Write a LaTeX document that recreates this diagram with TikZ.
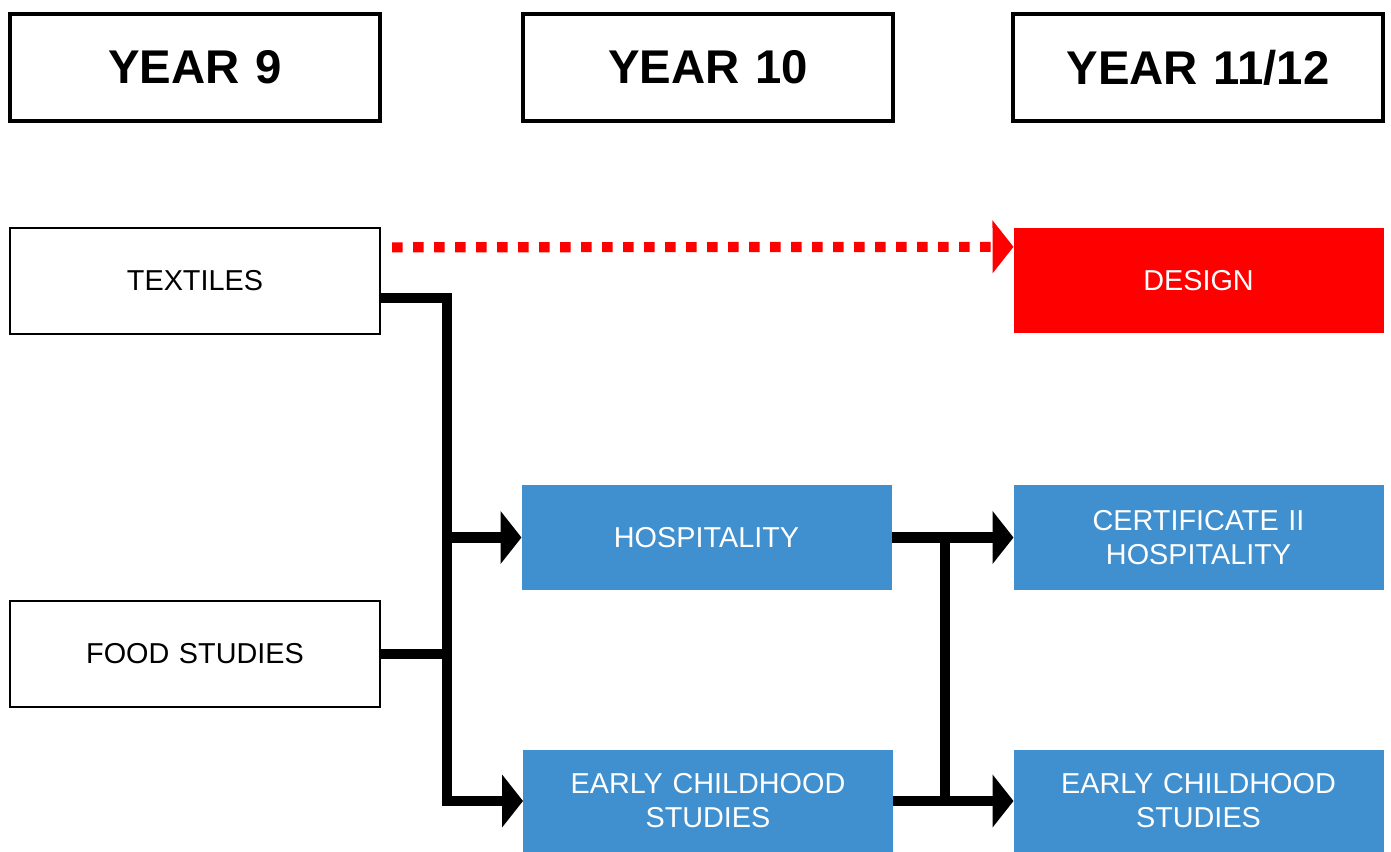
\documentclass[tikz,border=0pt]{standalone}
\usepackage{fontspec}
\setmainfont{Liberation Sans}
\usepackage{tikz}
\usetikzlibrary{arrows.meta}
\definecolor{hospblue}{RGB}{64,143,206}

\begin{document}
\begin{tikzpicture}[x=0.75pt, y=-0.75pt,
block/.style={rectangle, draw=black, line width=1.7pt, minimum width=277.5pt,
text centered, minimum height=79pt, text width=260pt, outer sep=0pt,
font=\fontsize{21.6}{25.5}\selectfont},
yearbox/.style={block, line width=2.3pt, minimum height=80.25pt, font=\fontsize{35.5}{43}\selectfont\bfseries},
filled/.style={block, draw=none, text=white},
link/.style={line width=7.9pt, line join=miter},
flow/.style={link, -{Triangle[length=15.75pt, width=39pt]}},
dots/.style={red, line width=7.6pt, dash pattern=on 8pt off 7.75pt, -{Triangle[length=15.75pt, width=39pt]}}
]
\useasboundingbox (0,0) rectangle (1391,852);

\node[yearbox] (y9) at (195,67.5) {YEAR 9};
\node[yearbox] (y10) at (708,67.5) {YEAR 10};
\node[yearbox] (y1112) at (1198,67.5) {YEAR 11/12};

\node[block] (textiles) at (195,281) {TEXTILES};
\node[block] (food) at (195,654) {FOOD STUDIES};
\node[filled, fill=red] (design) at (1198.5,280.5) {DESIGN};
\node[filled, fill=hospblue] (hosp) at (706.5,537.5) {HOSPITALITY};
\node[filled, fill=hospblue, minimum height=76pt] (ecsA) at (708,801) {EARLY CHILDHOOD\\STUDIES};
\node[filled, fill=hospblue] (cert) at (1198.5,537.5) {CERTIFICATE II\\HOSPITALITY};
\node[filled, fill=hospblue, minimum height=76pt] (ecsB) at (1198.5,801) {EARLY CHILDHOOD\\STUDIES};

\coordinate (trunk) at (447,298);
\coordinate (merge) at (945,538);

\draw[dots] ([xshift=9pt, yshift=-14.25pt]textiles.north east) -- ([yshift=-14.25pt]design.north west);
\draw[flow] (textiles.east |- trunk) -- (trunk) |- (ecsA.west);
\draw[link] (food.east) -- (food.east -| trunk);
\draw[flow] (hosp.west -| trunk) -- (hosp.west);
\draw[flow] (hosp.east) -- (cert.west);
\draw[flow] (ecsA.east) -- (ecsB.west);
\draw[link] (merge |- hosp.east) -- (merge |- ecsA.east);
\end{tikzpicture}
\end{document}
